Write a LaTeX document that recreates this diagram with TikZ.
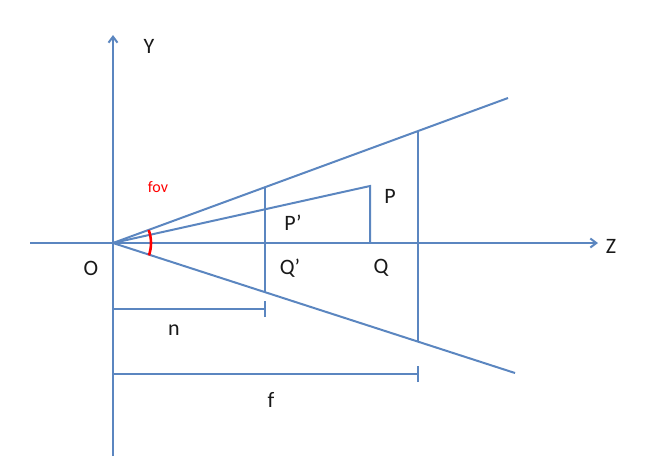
\documentclass[tikz,border=0pt]{standalone}
\usepackage{fontspec}
\setmainfont{Carlito}
\usetikzlibrary{arrows.meta}
\definecolor{ax}{HTML}{5B86C0}
\definecolor{fovred}{HTML}{FF0000}
\begin{document}
\begin{tikzpicture}[x=1pt,y=-1pt,
  ln/.style={draw=ax,line width=2pt},
  arr/.style={ln,-{Straight Barb[length=6pt,width=9pt,line width=2pt]}},
  lbl/.style={font=\fontsize{22}{26}\selectfont,text=black!90,inner sep=0pt},
  redlbl/.style={font=\fontsize{16}{18}\selectfont,text=fovred,inner sep=0pt}]
\useasboundingbox (0,0) rectangle (661,459);
% key coordinates
\coordinate (O) at (113,243);
\coordinate (ybot) at (113,456);
\coordinate (ytop) at (113,35);
\coordinate (zl) at (30,243);
\coordinate (zr) at (598,243);
\coordinate (up) at (508,98);
\coordinate (lo) at (515,373);
\coordinate (nu) at (265,187);
\coordinate (nl) at (265,292);
\coordinate (fu) at (418,131);
\coordinate (fl) at (418,342);
\coordinate (pp) at (370,186);
\coordinate (qq) at (370,243);
\coordinate (n0) at (113,309);
\coordinate (n1) at (265,309);
\coordinate (f0) at (113,374);
\coordinate (f1) at (418,374);
% axes
\draw[arr] (ybot) -- (ytop);
\draw[arr] (zl) -- (zr);
% frustum
\draw[ln] (O) -- (up);
\draw[ln] (O) -- (lo);
\draw[ln] (nu) -- (nl);
\draw[ln] (fu) -- (fl);
% point P
\draw[ln] (O) -- (pp) -- (qq);
% dimension lines
\draw[ln] (n0) -- (n1);
\draw[ln] ([yshift=-8pt]n1) -- ([yshift=8pt]n1);
\draw[ln] (f0) -- (f1);
\draw[ln] ([yshift=-8pt]f1) -- ([yshift=8pt]f1);
% fov arc
\draw[fovred,line width=2.6pt] ([shift={(20:38pt)}]O) arc[start angle=20,end angle=-19,radius=38pt];
% labels
\node[lbl] (Y) at (149,46) {Y};
\node[lbl] (Z) at (611,246) {Z};
\node[lbl] (Ol) at (91,268) {O};
\node[lbl] (Qp) at (290,268) {Q’};
\node[lbl] (Ql) at (381,268) {Q};
\node[lbl] (Pp) at (293,223) {P’};
\node[lbl] (Pl) at (390,196) {P};
\node[lbl] (nl2) at (174,330) {n};
\node[lbl] (fl2) at (271,400) {f};
\node[redlbl] (fov) at (158,187) {fov};
\end{tikzpicture}
\end{document}
